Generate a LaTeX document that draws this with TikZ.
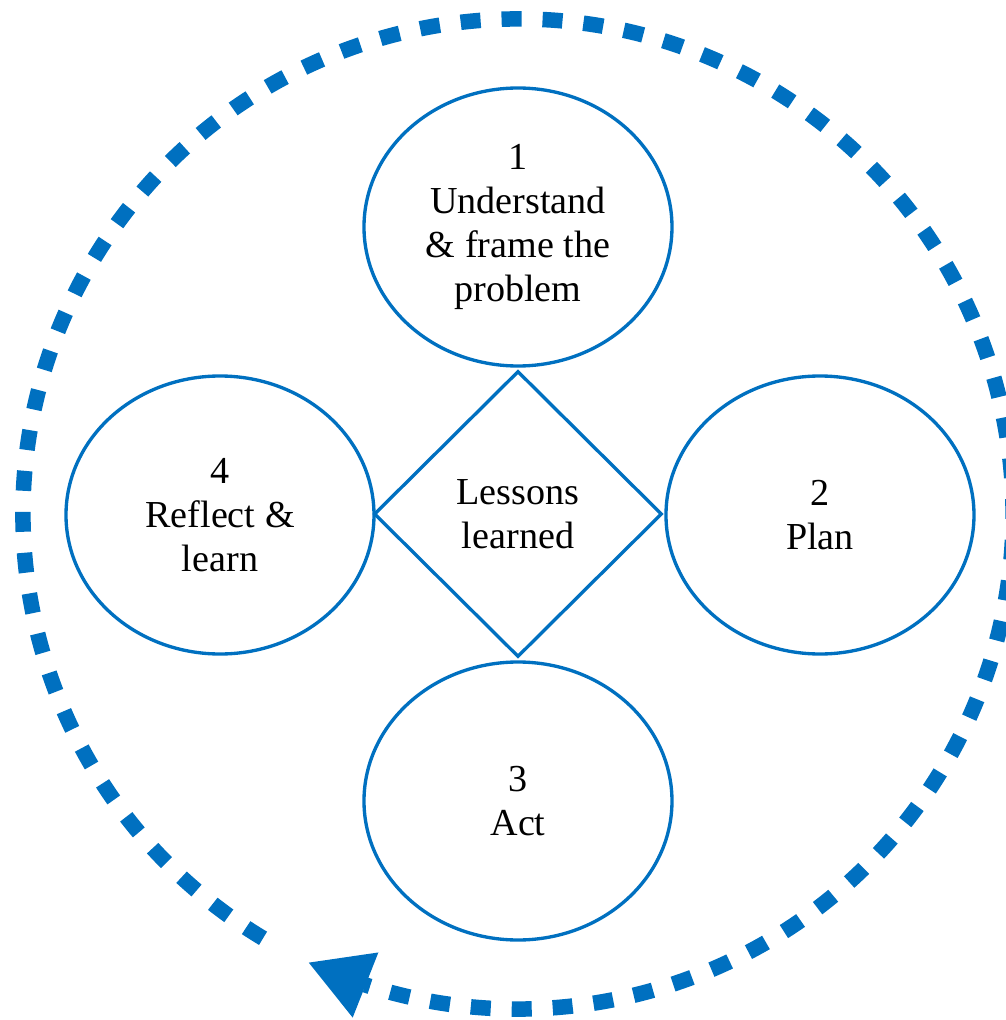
\documentclass[tikz,border=0pt]{standalone}
\usepackage{fontspec}
\setmainfont{Liberation Serif}
\usetikzlibrary{shapes.geometric, arrows.meta, bending}
\definecolor{cycleblue}{RGB}{0,112,192}

\begin{document}
\begin{tikzpicture}[
    stage/.style={ellipse, draw=cycleblue, line width=1.9pt, minimum width=6.16cm,
        minimum height=5.56cm, inner sep=0pt, align=center,
        font=\fontsize{21.7}{25}\selectfont},
    lesson/.style={diamond, draw=cycleblue, line width=1.9pt, minimum width=5.76cm,
        minimum height=5.72cm, inner sep=0pt, align=center,
        font=\fontsize{21.7}{25}\selectfont}]
    \clip (-10.36,-10.12) rectangle (9.76,10.28);

    \node (X) [lesson] at (0,0) {Lessons\\learned};

    \node (A) [stage] at (0,5.74) {1\\Understand\\\& frame the\\problem};
    \node (B) [stage] at (6.04,-0.02) {2\\Plan};
    \node (C) [stage] at (0,-5.74) {3\\Act};
    \node (D) [stage] at (-5.96,-0.02) {4\\Reflect \&\\learn};

    % the cycle round all four steps
    \draw [cycleblue, line width=0.31cm, dash pattern=on 0.4cm off 0.42cm,
        -{Triangle[length=1.22cm, width=1.4cm, line width=0pt, flex]}]
        (239:9.9) arc (239:-115:9.9);
\end{tikzpicture}
\end{document}
